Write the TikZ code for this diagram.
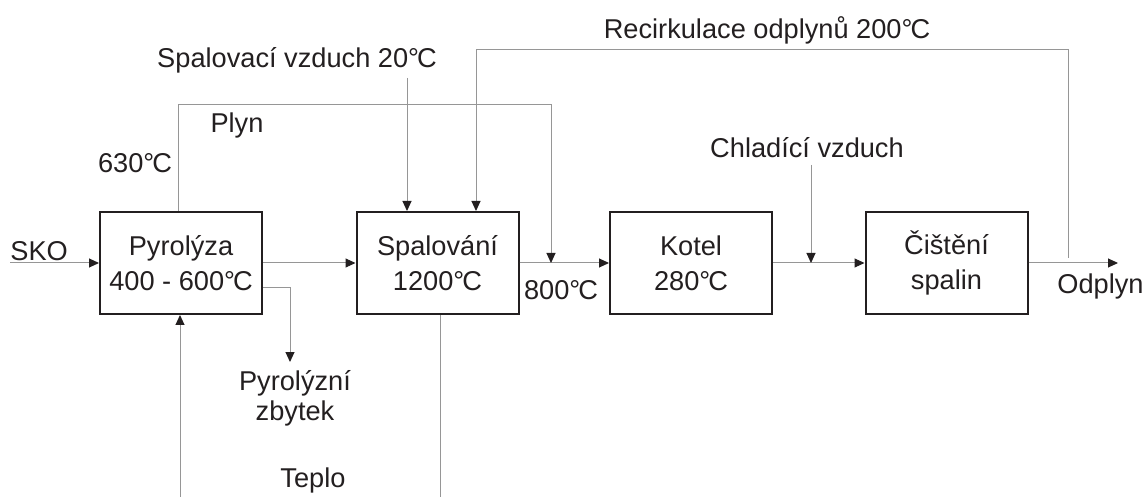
\documentclass[tikz,border=0pt]{standalone}
\usepackage{fontspec}
\setmainfont{Liberation Sans}
\usepackage{xcolor}
\usepackage{tikz}
\usetikzlibrary{arrows.meta,positioning}
\definecolor{tmava}{RGB}{35,31,32}
\definecolor{seda}{RGB}{150,150,150}
\newcommand{\stc}{°\kern-1pt C}
\tikzset{
  blok/.style={rectangle,draw=tmava,line width=1pt,minimum width=81pt,
    minimum height=51pt,inner sep=0pt,align=center,text=tmava,
    font=\fontsize{13.6}{17.5}\selectfont},
  popis/.style={inner sep=0pt,align=center,text=tmava,
    font=\fontsize{13.6}{15}\selectfont},
  cara/.style={line width=0.5pt,seda},
  sipka/.style={-{Triangle[length=5pt,width=4.5pt,color=tmava,fill=tmava]},
    line width=0.5pt,seda}
}

\begin{document}
\begin{tikzpicture}[x=0.5pt,y=-0.5pt]
\useasboundingbox (0,0) rectangle (1146,497);
% bloky
\node[blok] (pyro) at (181,263) {Pyrolýza\\400 - 600\stc};
\node[blok] (spal) at (437.5,263) {Spalování\\1200\stc};
\node[blok] (kotel) at (691,263) {Kotel\\280\stc};
\node[blok] (cist) at (946.5,263) {Čištění\\spalin};
% body
\coordinate (vstup) at (10,263);
\coordinate (vystup) at (1118,263);
\coordinate (smes) at (551,263);
\coordinate (plynhore) at (178,105);
\coordinate (vzduch) at (407,78);
\coordinate (odbocka) at (1068,258);
\coordinate (recirk) at (476,50);
\coordinate (chlad) at (811,165);
\coordinate (prim) at (811,263);
\coordinate (zbytek) at (290,362);
\coordinate (teplo1) at (440,497);
\coordinate (teplo2) at (180,497);
% hlavni tok
\draw[sipka] (vstup) -- (pyro.west);
\draw[sipka] (pyro.east) -- (spal.west);
\draw[sipka] (spal.east) -- (kotel.west);
\draw[sipka] (kotel.east) -- (cist.west);
\draw[sipka] (cist.east) -- (vystup);
% vedlejsi toky
\draw[sipka] (pyro.north -| plynhore) -- (plynhore) -| (smes);
\draw[sipka] (vzduch) -- (vzduch |- spal.north);
\draw[sipka] (odbocka) |- (recirk) -- (recirk |- spal.north);
\draw[sipka] (chlad) -- (prim);
\draw[sipka] ([yshift=-12.5pt]pyro.east) -| (zbytek);
\draw[cara] (spal.south -| teplo1) -- (teplo1);
\draw[sipka] (teplo2) -- (teplo2 |- pyro.south);
% popisy
\node[popis,anchor=west] (sko) at (10,251) {SKO};
\node[popis] (t630) at (135,163) {630\stc};
\node[popis] (plyn) at (237,125) {Plyn};
\node[popis] (spvzduch) at (297,60) {Spalovací vzduch 20\stc};
\node[popis] (recpopis) at (767,30) {Recirkulace odplynů 200\stc};
\node[popis] (chpopis) at (807,148) {Chladící vzduch};
\node[popis] (t800) at (561,290) {800\stc};
\node[popis,anchor=east] (odplyn) at (1144,286) {Odplyn};
\node[popis] (zbpopis) at (295,398) {Pyrolýzní\\zbytek};
\node[popis] (teplo) at (313,480) {Teplo};
\end{tikzpicture}
\end{document}
